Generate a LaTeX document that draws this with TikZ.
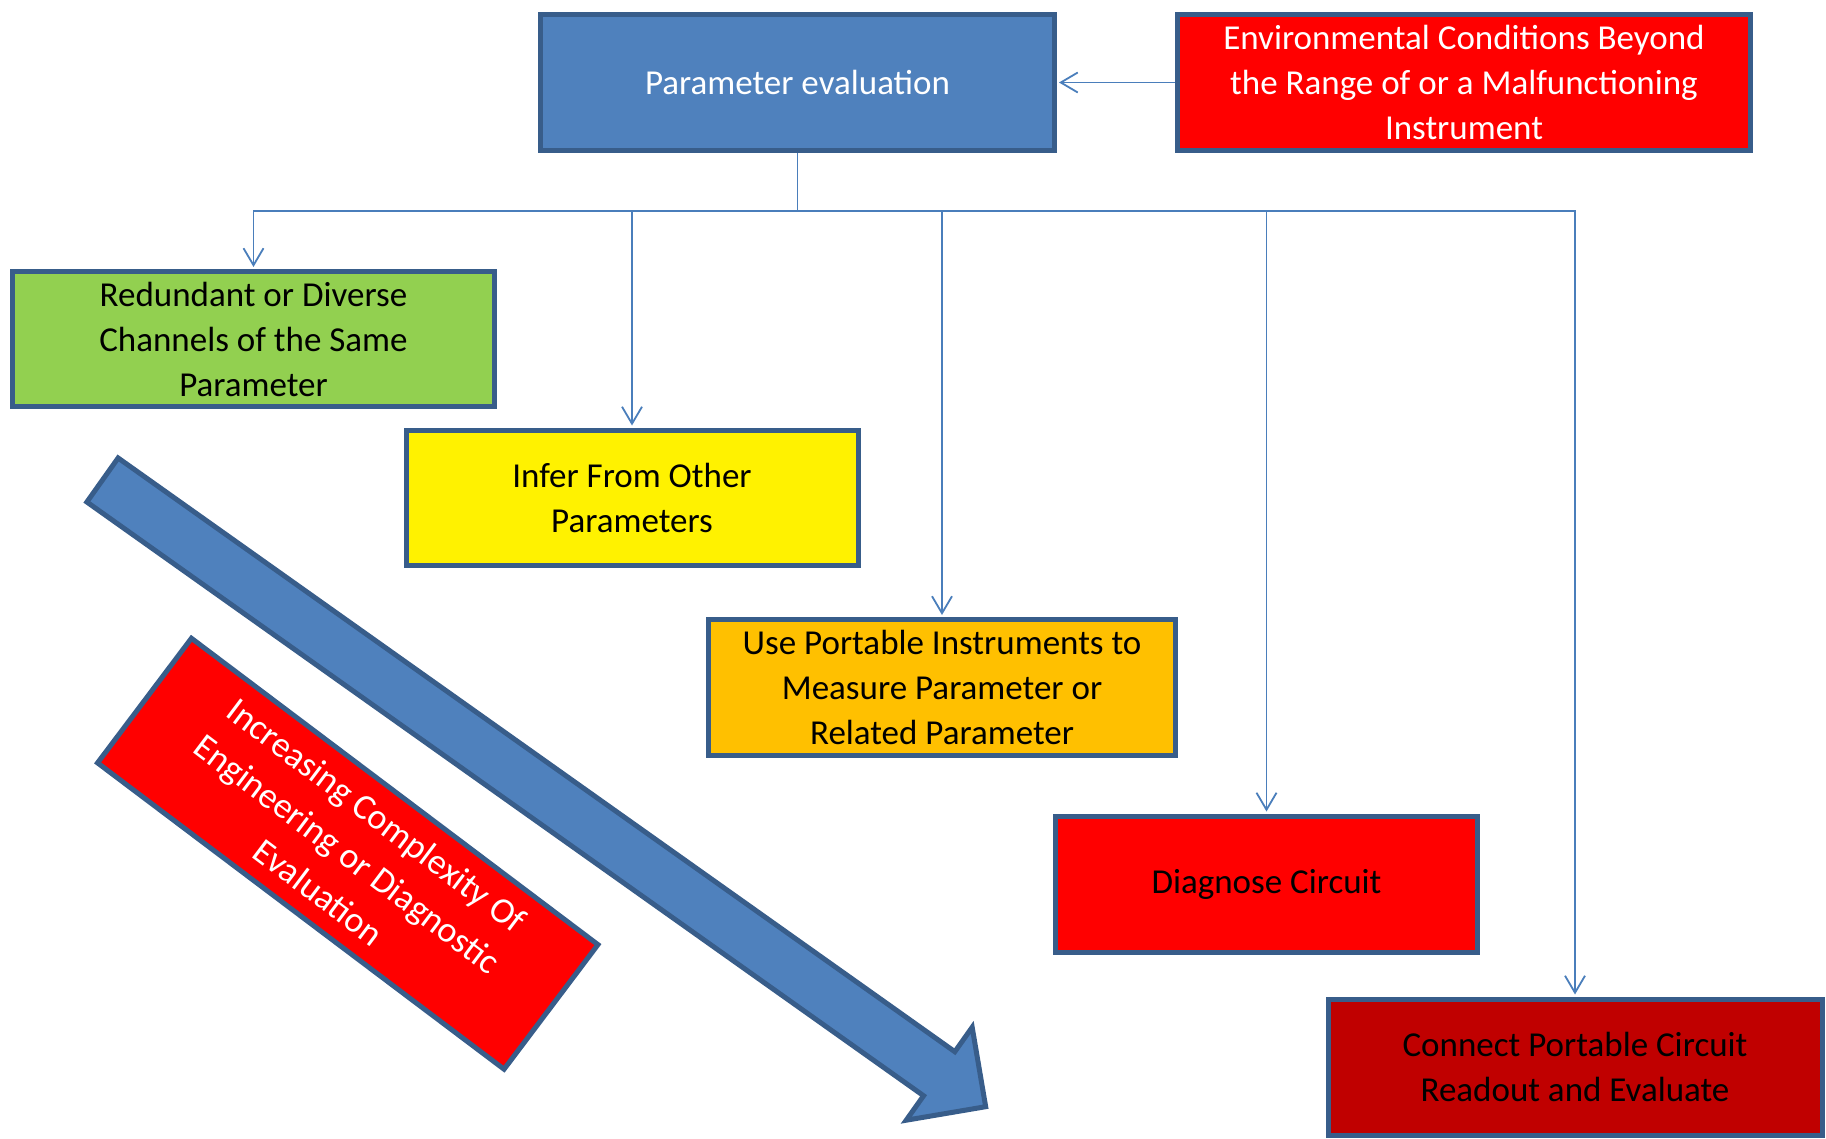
\documentclass[tikz,border=0pt]{standalone}
\usepackage{fontspec}
\setmainfont{Carlito}
\usepackage{tikz}
\usetikzlibrary{arrows.meta,positioning}
\definecolor{pptblue}{RGB}{79,129,189}
\definecolor{pptedge}{RGB}{56,93,138}
\definecolor{pptline}{RGB}{74,126,187}
\definecolor{pptgreen}{RGB}{146,208,80}
\definecolor{pptorange}{RGB}{255,192,0}
\definecolor{pptdarkred}{RGB}{192,0,0}

\tikzset{
  box/.style={draw=pptedge, line width=2.5pt, minimum height=68pt,
    inner sep=0pt, align=center, text=black},
  conn/.style={draw=pptline, line width=0.9pt,
    -{Straight Barb[length=8.5pt,width=10pt]}, shorten >=1pt},
  bigarrow/.style={fill=pptblue, draw=pptedge, line width=2.5pt, line join=miter}
}

\begin{document}
\begin{tikzpicture}[x=0.5pt, y=-0.5pt,
    every node/.style={font=\fontsize{17.5}{22.5}\selectfont}]

  \useasboundingbox (0,0) rectangle (1826,1139);

  % ========== TOP ROW ==========
  \node[box, fill=pptblue, text=white, minimum width=257pt] (pe) at (797.5,82.5)
    {Parameter evaluation};
  \node[box, fill=red, text=white, minimum width=286.5pt] (env) at (1464,82.5)
    {Environmental Conditions Beyond\\the Range of or a Malfunctioning\\Instrument};

  \draw[conn] (env.west) -- (pe.east);

  % ========== OPTIONS ==========
  \node[box, fill=pptgreen, minimum width=241pt, minimum height=67.5pt] (redund) at (253.5,339)
    {Redundant or Diverse\\Channels of the Same\\Parameter};
  \node[box, fill=yellow, minimum width=226pt, minimum height=67.5pt] (infer) at (632,497.5)
    {Infer From Other\\Parameters};
  \node[box, fill=pptorange, minimum width=233.5pt] (portable) at (942,687.5)
    {Use Portable Instruments to\\Measure Parameter or\\Related Parameter};
  \node[box, fill=red, minimum width=211pt] (diagnose) at (1266.5,884)
    {Diagnose Circuit};
  \node[box, fill=pptdarkred, minimum width=247pt] (connect) at (1575,1067)
    {Connect Portable Circuit\\Readout and Evaluate};

  % Bus
  \coordinate (bus) at (797.5,211);
  \foreach \n in {redund,infer,portable,diagnose,connect}{
    \draw[conn] (pe.south) -- (bus) -| (\n.north);
  }

  % ========== COMPLEXITY ARROW ==========
  \begin{scope}[shift={(102.5,480)}, rotate=-35.36]
    \draw[bigarrow] (0,-27) -- (1026,-27) -- (1026,-57) -- (1083,0)
      -- (1026,57) -- (1026,27) -- (0,27) -- cycle;
  \end{scope}

  \node[box, fill=red, text=white, rotate=-37, minimum width=254.5pt,
        minimum height=78pt, font=\fontsize{18}{24}\selectfont] (complexity) at (347.75,853.75)
    {Increasing Complexity Of\\Engineering or Diagnostic\\Evaluation};

\end{tikzpicture}
\end{document}
